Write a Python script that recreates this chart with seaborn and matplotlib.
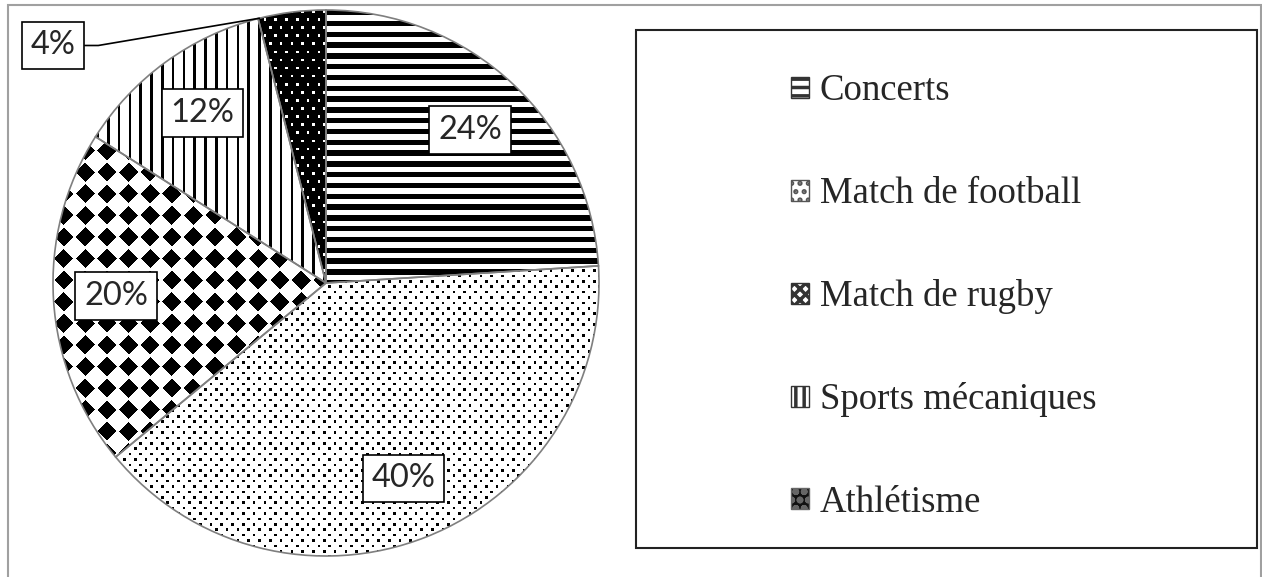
import numpy as np
import matplotlib
matplotlib.use("Agg")
import matplotlib.pyplot as plt
import seaborn as sns
from matplotlib.patches import Patch, Rectangle

# données
categories = ["Concerts", "Match de football", "Match de rugby",
              "Sports mécaniques", "Athlétisme"]
shares = [24, 40, 20, 12, 4]
pct_labels = [f"{v}%" for v in shares]

sns.set_theme(style="white")
plt.rcParams["font.family"] = ["Liberation Serif", "DejaVu Serif"]
plt.rcParams["hatch.linewidth"] = 2.5

W, H = 1262, 577
fig = plt.figure(figsize=(W / 100, H / 100), dpi=100)

# pie geometry in pixels
cx, cy, R = 326, 283, 273
lim = 1.02
side = 2 * lim * R
ax = fig.add_axes([(cx - side / 2) / W, (H - cy - side / 2) / H, side / W, side / H])

wedges, _ = ax.pie(shares, startangle=90, counterclock=False, radius=1,
                   wedgeprops=dict(fill=False, edgecolor="#7f7f7f", linewidth=1.2, zorder=3))

# motifs type Excel (bitmap)
N = 2 * R
yy, xx = np.mgrid[0:N, 0:N] + 0.5
s = 2.7
px = np.floor(xx / s).astype(int)
py = np.floor(yy / s).astype(int)

stripes = np.where(py % 4 < 2, 0.0, 1.0)
dots = np.ones((N, N))
dots[(py % 2 == 0) & ((px + 2 * ((py // 2) % 2)) % 4 == 0)] = 0.0
u = (xx % (8 * s)) - 4 * s
v = (yy % (8 * s)) - 4 * s
diamonds = np.where(np.abs(u) + np.abs(v) <= 9.6, 0.0, 1.0)
vlines = np.where(px % 4 == 0, 0.0, 1.0)
athl = np.zeros((N, N))
athl[(py % 3 == 0) & ((px + 2 * ((py // 3) % 2)) % 4 == 0)] = 1.0

patterns = [stripes, dots, diamonds, vlines, athl]
for w, pat in zip(wedges, patterns):
    im = ax.imshow(pat, cmap="gray", vmin=0, vmax=1, extent=(-1, 1, -1, 1),
                   interpolation="nearest", zorder=1)
    im.set_clip_path(w)

ax.set_xlim(-lim, lim)
ax.set_ylim(-lim, lim)
ax.set_aspect("equal")
ax.axis("off")

# étiquettes de pourcentage
box = dict(boxstyle="square,pad=0.27", facecolor="white", edgecolor="black", linewidth=1.2)
for w, lab in zip(wedges[:-1], pct_labels[:-1]):
    ang = np.deg2rad((w.theta1 + w.theta2) / 2)
    ax.text(0.77 * np.cos(ang), 0.77 * np.sin(ang), lab, ha="center", va="center",
            fontsize=23.5, family=["Lato", "DejaVu Sans"], bbox=box, zorder=5)

# petite part : étiquette à l'extérieur avec ligne de rappel
w = wedges[-1]
edge = np.deg2rad(w.theta2 - 0.3)
ax.annotate(pct_labels[-1], xy=(np.cos(edge), np.sin(edge)), xytext=(-1.0, 0.87),
            ha="center", va="center", fontsize=23.5, family=["Lato", "DejaVu Sans"],
            bbox=box, zorder=5, annotation_clip=False,
            arrowprops=dict(arrowstyle="-", color="black", lw=1.2, shrinkA=0, shrinkB=0,
                            connectionstyle="angle,angleA=0,angleB=9.6,rad=0"))

# légende
handles = [
    Patch(facecolor="white", edgecolor="#333333", hatch="--"),
    Patch(facecolor="white", edgecolor="#555555", hatch=".."),
    Patch(facecolor="white", edgecolor="#333333", hatch="xxx"),
    Patch(facecolor="white", edgecolor="#333333", hatch="||"),
    Patch(facecolor="#111111", edgecolor="#666666", hatch="oo"),
]
fig.legend(handles, categories, loc="upper left", bbox_to_anchor=(791 / W, 1 - 74 / H),
           frameon=False, fontsize=26.5, borderpad=0, borderaxespad=0,
           handlelength=0.5, handleheight=0.5, handletextpad=0.28, labelspacing=1.85)

# cadres
fig.add_artist(Rectangle((636 / W, 1 - 548 / H), (1257 - 636) / W, (548 - 30) / H,
                         transform=fig.transFigure, fill=False, edgecolor="#222222", linewidth=1.5))
fig.add_artist(Rectangle((8 / W, -0.02), (1261 - 8) / W, 1.02 - 5 / H,
                         transform=fig.transFigure, fill=False, edgecolor="#a0a0a0", linewidth=1.5))

fig.savefig("out.png", dpi=100)
